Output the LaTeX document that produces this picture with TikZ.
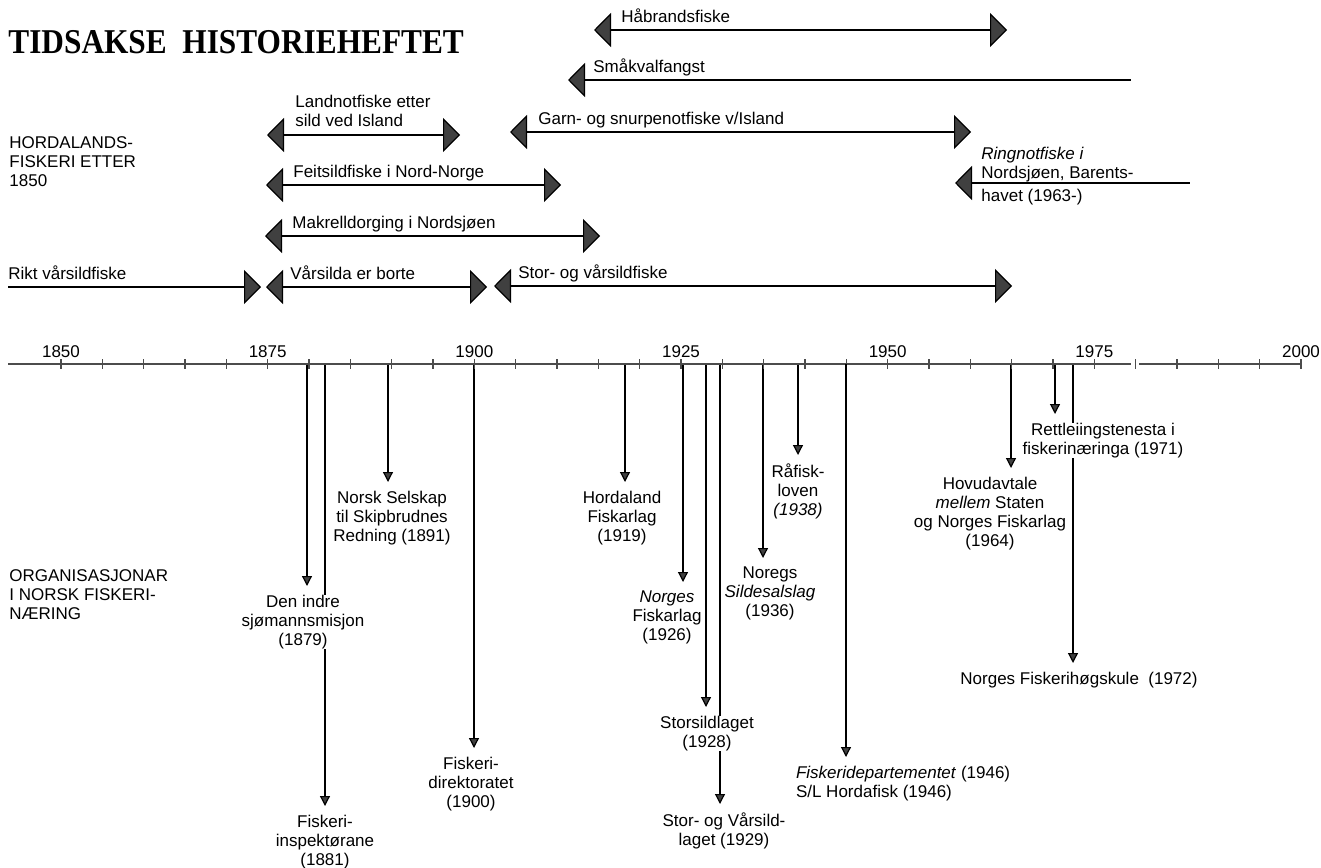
\documentclass[tikz,border=0pt]{standalone}
\usepackage{fontspec,graphicx}
\setmainfont{Liberation Sans}
\newfontfamily\tittelfont{Liberation Serif}
\usetikzlibrary{calc, arrows.meta, backgrounds}
\tikzset{
    tekst/.style={inner sep=0pt, font=\fontsize{8.5}{9.5}\selectfont},
    strek/.style={line width=0.6pt, black},
    akse/.style={line width=0.7pt, black!70},
    spiss/.tip={Triangle[length=8.5pt, width=17pt, fill=black!75]},
    liten/.tip={Triangle[length=5pt, width=5pt, fill=black!75]},
    spenn/.style={strek, spiss-spiss},
    spennv/.style={strek, spiss-},
    spennh/.style={strek, -spiss},
    hending/.style={strek, -liten},
    hendtekst/.style={tekst, anchor=north, align=center, fill=white, outer sep=4.5pt}
}
\begin{document}
\begin{tikzpicture}[x=0.5pt,y=-0.5pt]
    \useasboundingbox (0,0) rectangle (1321,867);
    \node[anchor=north west, inner sep=0pt] (tittel) at (8,30) {\tittelfont\bfseries\fontsize{17.4}{18}\selectfont\scalebox{0.9}[1]{TIDSAKSE\ \ HISTORIEHEFTET}};
    \node[tekst, anchor=north west, align=left] (hordaland) at (9,136) {HORDALANDS-\\FISKERI ETTER\\1850};
    \node[tekst, anchor=north west, align=left] (organisasjon) at (9,569) {ORGANISASJONAR\\I NORSK FISKERI-\\NÆRING};
    \foreach \n/\fra/\til/\hy/\stil/\tx/\txt in {
        hab/594/1007/30/spenn/621/Håbrandsfiske,
        smaa/568/1131/80/spennv/593/Småkvalfangst,
        garn/510/971/132/spenn/538/{Garn- og snurpenotfiske v/Island},
        feit/266/561/185/spenn/293/Feitsildfiske i Nord-Norge,
        makr/265/600/236/spenn/292/Makrelldorging i Nordsjøen,
        rikt/8/261/287/spennh/8/Rikt vårsildfiske,
        vaar/266/487/287/spenn/290/Vårsilda er borte,
        stor/494/1012/286/spenn/518/Stor- og vårsildfiske}{
        \coordinate (\n1) at (\fra,\hy);
        \coordinate (\n2) at (\til,\hy);
        \draw[\stil] (\n1) -- (\n2);
        \node[tekst, anchor=base west] (t\n) at (\tx,\hy-8) {\txt};
    }
    \coordinate (land1) at (267,135);
    \coordinate (land2) at (460,135);
    \draw[spenn] (land1) -- (land2);
    \node[tekst, anchor=south west, align=left] (tland) at (295,127) {Landnotfiske etter\\sild ved Island};
    \coordinate (ring1) at (955,183);
    \coordinate (ring2) at (1190,183);
    \draw[spennv] (ring1) -- (ring2);
    \node[tekst, anchor=south west, align=left] (tring) at (981,182) {\textit{Ringnotfiske i}\\Nordsjøen, Barents-};
    \node[tekst, anchor=base west] (tring2) at (981,201) {havet (1963-)};
    \draw[akse] (8,364) -- (1131,364) (1139,364) -- (1302,364);
    \foreach \i in {0,...,30}{
        \draw[akse] (61+41.33*\i,359) -- (61+41.33*\i,369);
    }
    \foreach \aar [count=\k from 0] in {1850,1875,...,2000}{
        \node[tekst, anchor=base] (aar\aar) at (61+206.67*\k,357) {\aar};
    }
    \foreach \n/\lx/\tip/\tx/\txt in {
        1879/307/586/303/{Den indre\\sjømannsmisjon\\(1879)},
        1881/325/806/325/{Fiskeri-\\inspektørane\\(1881)},
        1891/388/482/392/{Norsk Selskap\\til Skipbrudnes\\Redning (1891)},
        1900/474/748/471/{Fiskeri-\\direktoratet\\(1900)},
        1919/625/482/622/{Hordaland\\Fiskarlag\\(1919)},
        1926/683/582/667/{\textit{Norges}\\Fiskarlag\\(1926)},
        1928/706/707/707/{Storsildlaget\\(1928)},
        1929/720/804/724/{Stor- og Vårsild-\\laget (1929)},
        1936/763/558/770/{Noregs\\\textit{Sildesalslag}\\(1936)},
        1938/798/455/798/{Råfisk-\\loven\\\textit{(1938)}},
        1964/1011/468/990/{Hovudavtale\\\textit{mellem} Staten\\og Norges Fiskarlag\\(1964)},
        1971/1055/414/1103/{Rettleiingstenesta i\\fiskerinæringa (1971)},
        1972/1073/663/1079/{Norges Fiskerihøgskule\ \ (1972)}}{
        \coordinate (a\n) at (\lx,364);
        \node[hendtekst] (h\n) at (\tx,\tip) {\txt};
        \begin{scope}[on background layer]
            \draw[hending] (a\n) -- (a\n |- h\n.north);
        \end{scope}
    }
    \coordinate (a1946) at (846,364);
    \node[hendtekst, anchor=north west, align=left] (h1946) at (787,757) {\textit{Fiskeridepartementet} (1946)\\S/L Hordafisk (1946)};
    \draw[hending] (a1946) -- (a1946 |- h1946.north);
\end{tikzpicture}
\end{document}
